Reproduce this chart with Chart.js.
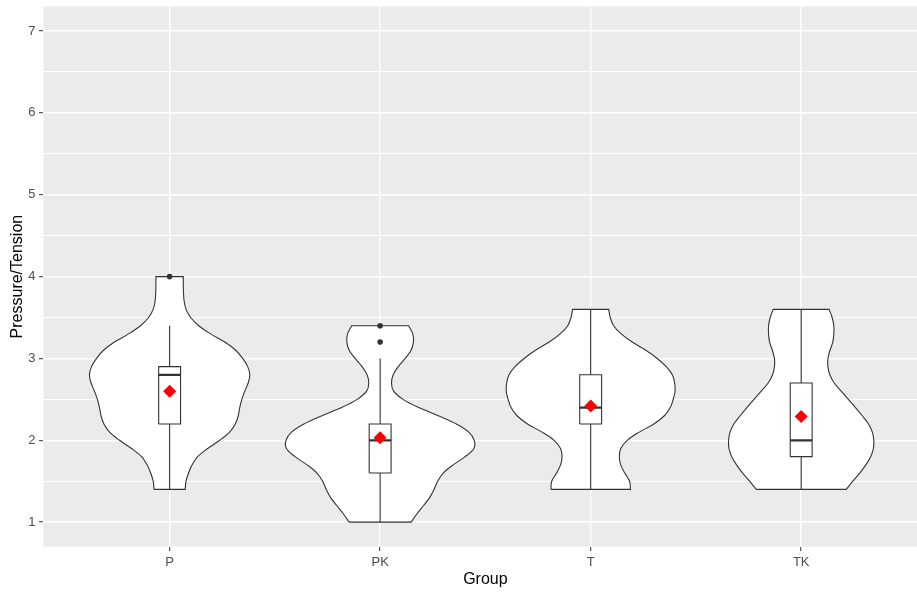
<!DOCTYPE html>
<html>
<head>
<meta charset="utf-8">
<script src="https://cdn.jsdelivr.net/npm/chart.js@4"></script>
<style>
  html, body { margin: 0; padding: 0; background: #ffffff; overflow: hidden; }
  canvas { display: block; }
</style>
</head>
<body>
<canvas id="chart" width="934" height="595"></canvas>
<script>
// Groups on the x axis
const categories = ['P', 'PK', 'T', 'TK'];

// y axis breaks
const yMajorBreaks = [1, 2, 3, 4, 5, 6, 7];
const yMinorBreaks = [1.5, 2.5, 3.5, 4.5, 5.5, 6.5];

// Violin outlines: half-width (in category units) at each level, bottom to top
const violinP_levels = [1.4, 1.5, 1.6, 1.7, 1.8, 1.9, 2.0, 2.1, 2.2, 2.3, 2.4, 2.5, 2.6, 2.7, 2.8, 2.9, 3.0, 3.1, 3.2, 3.3, 3.4, 3.5, 3.6, 3.7, 3.8, 3.9, 4.0];
const violinP_halfWidth = [0.074, 0.078, 0.090, 0.107, 0.133, 0.181, 0.238, 0.285, 0.312, 0.326, 0.333, 0.343, 0.357, 0.373, 0.381, 0.371, 0.347, 0.314, 0.262, 0.195, 0.138, 0.100, 0.078, 0.069, 0.066, 0.065, 0.065];

const violinPK_levels = [1.0, 1.1, 1.2, 1.3, 1.4, 1.5, 1.6, 1.7, 1.8, 1.9, 2.0, 2.1, 2.2, 2.3, 2.4, 2.5, 2.6, 2.7, 2.8, 2.9, 3.0, 3.1, 3.2, 3.3, 3.4];
const violinPK_halfWidth = [0.147, 0.174, 0.205, 0.235, 0.256, 0.273, 0.300, 0.347, 0.404, 0.445, 0.447, 0.421, 0.362, 0.276, 0.183, 0.109, 0.064, 0.054, 0.062, 0.086, 0.119, 0.147, 0.158, 0.155, 0.135];

const violinT_levels = [1.4, 1.5, 1.6, 1.7, 1.8, 1.9, 2.0, 2.1, 2.2, 2.3, 2.4, 2.5, 2.6, 2.7, 2.8, 2.9, 3.0, 3.1, 3.2, 3.3, 3.4, 3.5, 3.6];
const violinT_halfWidth = [0.189, 0.185, 0.162, 0.143, 0.136, 0.143, 0.174, 0.231, 0.300, 0.350, 0.378, 0.392, 0.401, 0.399, 0.388, 0.359, 0.316, 0.262, 0.197, 0.145, 0.109, 0.093, 0.086];

const violinTK_levels = [1.4, 1.5, 1.6, 1.7, 1.8, 1.9, 2.0, 2.1, 2.2, 2.3, 2.4, 2.5, 2.6, 2.7, 2.8, 2.9, 3.0, 3.1, 3.2, 3.3, 3.4, 3.5, 3.6];
const violinTK_halfWidth = [0.214, 0.245, 0.278, 0.307, 0.330, 0.343, 0.345, 0.338, 0.320, 0.290, 0.258, 0.224, 0.190, 0.157, 0.136, 0.127, 0.127, 0.137, 0.150, 0.155, 0.155, 0.147, 0.133];

// Box plot statistics per group
const boxLower    = [1.4, 1.0, 1.4, 1.4];   // lower whisker end
const boxQ1       = [2.2, 1.6, 2.2, 1.8];
const boxMedian   = [2.8, 2.0, 2.4, 2.0];
const boxQ3       = [2.9, 2.2, 2.8, 2.7];
const boxUpper    = [3.4, 3.0, 3.6, 3.6];   // upper whisker end
const groupMeans  = [2.6, 2.03, 2.42, 2.29];
const outliersP   = [4.0];
const outliersPK  = [3.4, 3.2];
const outliersT   = [];
const outliersTK  = [];

const violinLevels = [violinP_levels, violinPK_levels, violinT_levels, violinTK_levels];
const violinHalfWidths = [violinP_halfWidth, violinPK_halfWidth, violinT_halfWidth, violinTK_halfWidth];
const outlierLists = [outliersP, outliersPK, outliersT, outliersTK];

const BOX_HALF = 0.052;
const INK = '#333333';

// Closed outline of one violin; corner points are doubled so the flat ends stay sharp
function violinOutline(center, levels, hw) {
  const n = levels.length;
  const pts = [];
  pts.push({x: center - hw[0], y: levels[0]});
  pts.push({x: center + hw[0], y: levels[0]});
  for (let k = 0; k < n; k++) pts.push({x: center + hw[k], y: levels[k]});
  pts.push({x: center + hw[n - 1], y: levels[n - 1]});
  pts.push({x: center - hw[n - 1], y: levels[n - 1]});
  for (let k = n - 1; k >= 0; k--) pts.push({x: center - hw[k], y: levels[k]});
  return pts;
}

const datasets = [];

categories.forEach((cat, i) => {
  datasets.push({
    label: 'violin ' + cat,
    data: violinOutline(i, violinLevels[i], violinHalfWidths[i]),
    showLine: true,
    fill: 'shape',
    backgroundColor: '#ffffff',
    borderColor: INK,
    borderWidth: 1.1,
    tension: 0.35,
    pointRadius: 0,
    order: 6
  });
  datasets.push({
    label: 'box ' + cat,
    data: [
      {x: i - BOX_HALF, y: boxQ1[i]}, {x: i + BOX_HALF, y: boxQ1[i]},
      {x: i + BOX_HALF, y: boxQ3[i]}, {x: i - BOX_HALF, y: boxQ3[i]},
      {x: i - BOX_HALF, y: boxQ1[i]}
    ],
    showLine: true,
    fill: 'shape',
    backgroundColor: '#ffffff',
    borderColor: INK,
    borderWidth: 1.1,
    tension: 0,
    pointRadius: 0,
    order: 5
  });
  datasets.push({
    label: 'upper whisker ' + cat,
    data: [{x: i, y: boxQ3[i]}, {x: i, y: boxUpper[i]}],
    showLine: true, borderColor: INK, borderWidth: 1.1, pointRadius: 0, order: 4
  });
  datasets.push({
    label: 'lower whisker ' + cat,
    data: [{x: i, y: boxQ1[i]}, {x: i, y: boxLower[i]}],
    showLine: true, borderColor: INK, borderWidth: 1.1, pointRadius: 0, order: 4
  });
  datasets.push({
    label: 'median ' + cat,
    data: [{x: i - BOX_HALF, y: boxMedian[i]}, {x: i + BOX_HALF, y: boxMedian[i]}],
    showLine: true, borderColor: INK, borderWidth: 2.2, pointRadius: 0, order: 3
  });
});

datasets.push({
  label: 'outliers',
  data: outlierLists.flatMap((list, i) => list.map(v => ({x: i, y: v}))),
  showLine: false,
  pointRadius: 2.8,
  pointBackgroundColor: INK,
  pointBorderWidth: 0,
  order: 2
});

datasets.push({
  label: 'mean',
  data: groupMeans.map((m, i) => ({x: i, y: m})),
  showLine: false,
  pointStyle: 'rectRot',
  pointRadius: 6.5,
  pointBackgroundColor: '#ff0000',
  pointBorderColor: '#ff0000',
  pointBorderWidth: 0,
  order: 1
});

// Grey panel behind the plotting area
const panelBackground = {
  id: 'panelBackground',
  beforeDraw(chart) {
    const {ctx, chartArea: a} = chart;
    ctx.save();
    ctx.fillStyle = '#EBEBEB';
    ctx.fillRect(a.left, a.top, a.right - a.left, a.bottom - a.top);
    ctx.restore();
  }
};

const FONT = "'Liberation Sans', Arial, sans-serif";
const isMajorY = v => yMajorBreaks.includes(v);

function noScalePadding(scale) {
  scale.paddingTop = 0;
  scale.paddingBottom = 0;
  scale.paddingLeft = 0;
  scale.paddingRight = 0;
}

new Chart(document.getElementById('chart'), {
  type: 'scatter',
  data: { datasets },
  plugins: [panelBackground],
  options: {
    responsive: false,
    devicePixelRatio: 1,
    animation: false,
    events: [],
    layout: { padding: { top: 6, left: 0, right: 0, bottom: 0 } },
    plugins: {
      legend: { display: false },
      tooltip: { enabled: false }
    },
    scales: {
      x: {
        type: 'linear',
        min: -0.6,
        max: 3.6,
        afterBuildTicks(scale) {
          scale.ticks = categories.map((c, i) => ({ value: i }));
        },
        afterFit(scale) { scale.height = 48.3; noScalePadding(scale); },
        ticks: {
          callback: v => categories[v],
          color: '#4D4D4D',
          font: { family: FONT, size: 13 },
          padding: 3.5,
          maxRotation: 0,
          autoSkip: false
        },
        grid: {
          color: '#ffffff',
          lineWidth: 1.4,
          tickColor: INK,
          tickLength: 4.3,
          tickWidth: 1
        },
        border: { display: false },
        title: {
          display: true,
          text: 'Group',
          color: '#000000',
          font: { family: FONT, size: 16 },
          padding: { top: 0, bottom: 6 }
        }
      },
      y: {
        type: 'linear',
        min: 0.7,
        max: 7.3,
        afterBuildTicks(scale) {
          scale.ticks = yMajorBreaks.concat(yMinorBreaks).sort((a, b) => a - b).map(v => ({ value: v }));
        },
        afterFit(scale) { scale.width = 43.3; noScalePadding(scale); },
        ticks: {
          callback: v => (isMajorY(v) ? String(v) : ''),
          color: '#4D4D4D',
          font: { family: FONT, size: 13 },
          padding: 3.5,
          autoSkip: false
        },
        grid: {
          color: '#ffffff',
          lineWidth: ctx => (ctx.tick && isMajorY(ctx.tick.value) ? 1.4 : 1.0),
          tickColor: ctx => (ctx.tick && isMajorY(ctx.tick.value) ? INK : 'rgba(0,0,0,0)'),
          tickLength: 4.3,
          tickWidth: 1
        },
        border: { display: false },
        title: {
          display: true,
          text: 'Pressure/Tension',
          color: '#000000',
          font: { family: FONT, size: 16 },
          padding: { top: 8, bottom: 0 }
        }
      }
    }
  }
});
</script>
</body>
</html>
